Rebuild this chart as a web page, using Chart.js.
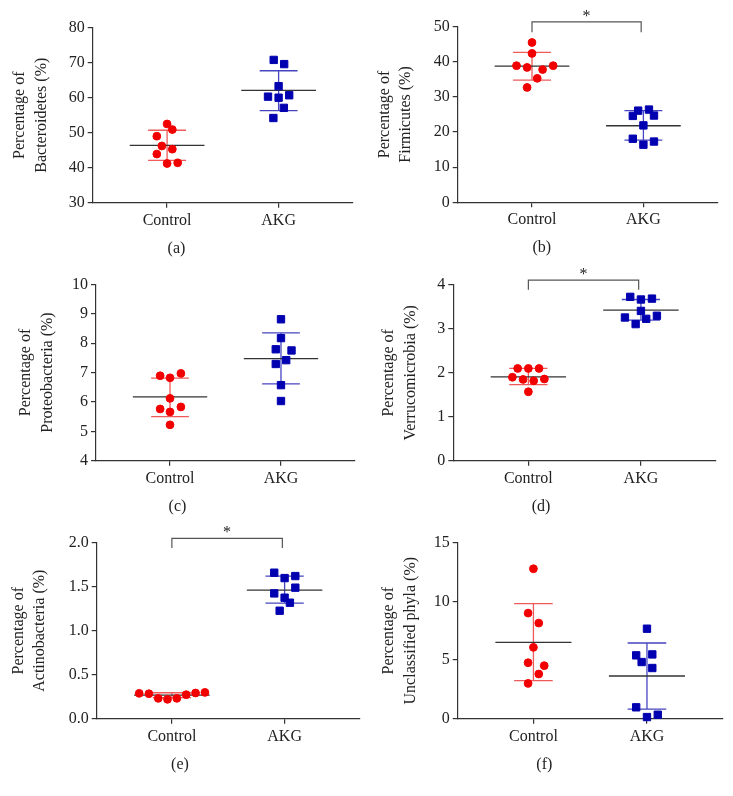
<!DOCTYPE html>
<html>
<head>
<meta charset="utf-8">
<title>Phyla abundance, Control vs AKG</title>
<script src="https://cdn.jsdelivr.net/npm/chart.js@4.4.1/dist/chart.umd.min.js"></script>
<style>
  body { margin: 0; background: #fff; }
  #grid { position: relative; width: 733px; height: 796px; }
  #grid canvas { position: absolute; }
</style>
</head>
<body>
<div id="grid">
  <canvas id="pa" width="366" height="265" style="left:0;top:0"></canvas>
  <canvas id="pb" width="367" height="265" style="left:366px;top:0"></canvas>
  <canvas id="pc" width="366" height="265" style="left:0;top:265px"></canvas>
  <canvas id="pd" width="367" height="265" style="left:366px;top:265px"></canvas>
  <canvas id="pe" width="366" height="281" style="left:0;top:515px"></canvas>
  <canvas id="pf" width="367" height="266" style="left:366px;top:530px"></canvas>
</div>
<script>
const groups = ['Control', 'AKG'];

// (a) Bacteroidetes
const bacControl = [52.5, 50.9, 49.0, 46.2, 45.3, 43.9, 41.2, 41.4];
const bacControlJit = [0, 0.047, -0.092, -0.047, 0.047, -0.092, 0, 0.095];
const bacAkg = [70.8, 69.6, 63.3, 60.3, 60.0, 60.7, 57.1, 54.2];
const bacAkgJit = [-0.044, 0.05, 0, -0.095, 0, 0.095, 0.047, -0.047];
const bacMean = [46.4, 62.1];
const bacLow = [42.1, 56.3];
const bacHigh = [50.7, 67.7];

// (b) Firmicutes
const firControl = [45.5, 42.4, 38.9, 38.4, 38.9, 37.8, 35.3, 32.7];
const firControlJit = [0, 0, -0.139, -0.044, 0.19, 0.095, 0.047, -0.044];
const firAkg = [26.1, 26.4, 24.6, 24.7, 21.9, 18.1, 17.3, 16.4];
const firAkgJit = [-0.047, 0.05, -0.095, 0.095, 0, -0.095, 0.095, 0];
const firMean = [38.8, 21.8];
const firLow = [34.8, 17.7];
const firHigh = [42.7, 26.1];

// (c) Proteobacteria
const proControl = [6.89, 6.82, 6.97, 6.12, 5.76, 5.66, 5.83, 5.22];
const proControlJit = [-0.089, 0, 0.098, 0, -0.089, 0, 0.098, 0];
const proAkg = [8.81, 8.17, 7.79, 7.75, 7.42, 7.29, 6.57, 6.03];
const proAkgJit = [0, 0, -0.047, 0.095, 0.047, -0.047, 0, 0];
const proMean = [6.17, 7.47];
const proLow = [5.50, 6.61];
const proHigh = [6.81, 8.35];

// (d) Verrucomicrobia
const verControl = [2.10, 2.10, 2.10, 1.90, 1.85, 1.82, 1.86, 1.57];
const verControlJit = [-0.095, 0, 0.095, -0.142, -0.047, 0.047, 0.142, 0];
const verAkg = [3.73, 3.67, 3.69, 3.41, 3.26, 3.23, 3.30, 3.11];
const verAkgJit = [-0.095, 0, 0.098, 0, -0.142, 0.047, 0.142, -0.047];
const verMean = [1.91, 3.43];
const verLow = [1.73, 3.20];
const verHigh = [2.10, 3.67];

// (e) Actinobacteria
const actControl = [0.288, 0.284, 0.231, 0.22, 0.231, 0.273, 0.292, 0.299];
const actControlJit = [-0.29, -0.204, -0.121, -0.039, 0.044, 0.127, 0.21, 0.293];
const actAkg = [1.659, 1.598, 1.621, 1.424, 1.489, 1.375, 1.318, 1.227];
const actAkgJit = [-0.092, 0, 0.095, -0.092, 0.095, 0, 0.047, -0.044];
const actMean = [0.269, 1.462];
const actLow = [0.24, 1.314];
const actHigh = [0.295, 1.621];

// (f) Unclassified phyla
const uncControl = [12.78, 9.0, 8.15, 6.08, 4.77, 4.52, 3.81, 3.01];
const uncControlJit = [0, -0.047, 0.047, 0, -0.047, 0.095, 0.047, -0.047];
const uncAkg = [7.67, 5.40, 5.48, 4.83, 4.32, 0.97, 0.14, 0.34];
const uncAkgJit = [0, -0.095, 0.047, -0.047, 0.047, -0.095, 0, 0.095];
const uncMean = [6.51, 3.64];
const uncLow = [3.24, 0.82];
const uncHigh = [9.80, 6.45];

Chart.defaults.font.family = "'Liberation Serif', 'Times New Roman', serif";
Chart.defaults.font.size = 16;
Chart.defaults.color = '#222';

const RED = '#f20000';
const BLUE = '#0000b0';
const barColors = ['#f05a5a', '#4646c0'];
const axisColor = '#333';

// mean line + SD whiskers, drawn under the points
const summaryPlugin = {
  id: 'summary',
  beforeDatasetsDraw(chart, args, opts) {
    const { ctx, scales: { x, y } } = chart;
    opts.mean.forEach((m, i) => {
      const c = i + 1;
      const px = v => x.getPixelForValue(v);
      const py = v => y.getPixelForValue(v);
      ctx.save();
      ctx.lineWidth = 1.3;
      ctx.strokeStyle = barColors[i];
      ctx.beginPath();
      ctx.moveTo(px(c), py(opts.low[i]));
      ctx.lineTo(px(c), py(opts.high[i]));
      [opts.low[i], opts.high[i]].forEach(v => {
        ctx.moveTo(px(c - 0.17), py(v));
        ctx.lineTo(px(c + 0.17), py(v));
      });
      ctx.stroke();
      ctx.strokeStyle = axisColor;
      ctx.beginPath();
      ctx.moveTo(px(c - 0.335), py(m));
      ctx.lineTo(px(c + 0.335), py(m));
      ctx.stroke();
      ctx.restore();
    });
  },
  afterDraw(chart, args, opts) {
    const sig = opts.sig;
    if (!sig) return;
    const { ctx, scales: { x, y } } = chart;
    const x1 = x.getPixelForValue(1), x2 = x.getPixelForValue(1.98);
    const yt = y.getPixelForValue(sig.top), yl = y.getPixelForValue(sig.leg);
    ctx.save();
    ctx.strokeStyle = '#555';
    ctx.lineWidth = 1.2;
    ctx.beginPath();
    ctx.moveTo(x1, yl);
    ctx.lineTo(x1, yt);
    ctx.lineTo(x2, yt);
    ctx.lineTo(x2, yl);
    ctx.stroke();
    ctx.fillStyle = '#222';
    ctx.font = "16px 'Liberation Serif', serif";
    ctx.textAlign = 'center';
    ctx.textBaseline = 'alphabetic';
    ctx.fillText('*', (x1 + x2) / 2, yt - 1);
    ctx.restore();
  }
};

const panels = [
  { id: 'pa', tag: '(a)', name: 'Bacteroidetes (%)', ctrl: bacControl, ctrlJit: bacControlJit, akg: bacAkg, akgJit: bacAkgJit,
    mean: bacMean, low: bacLow, high: bacHigh, yMin: 30, yMax: 80, step: 10, dec: 0,
    box: [92.7, 27.7, 353, 202.7], titlePad: 9, sig: null },
  { id: 'pb', tag: '(b)', name: 'Firmicutes (%)', ctrl: firControl, ctrlJit: firControlJit, akg: firAkg, akgJit: firAkgJit,
    mean: firMean, low: firLow, high: firHigh, yMin: 0, yMax: 50, step: 10, dec: 0,
    box: [91.7, 26.7, 351.7, 202.3], titlePad: 7.5, sig: { top: 51.4, leg: 48.4 } },
  { id: 'pc', tag: '(c)', name: 'Proteobacteria (%)', ctrl: proControl, ctrlJit: proControlJit, akg: proAkg, akgJit: proAkgJit,
    mean: proMean, low: proLow, high: proHigh, yMin: 4, yMax: 10, step: 1, dec: 0,
    box: [96, 19.3, 355, 195.7], titlePad: 15, sig: null },
  { id: 'pd', tag: '(d)', name: 'Verrucomicrobia (%)', ctrl: verControl, ctrlJit: verControlJit, akg: verAkg, akgJit: verAkgJit,
    mean: verMean, low: verLow, high: verHigh, yMin: 0, yMax: 4, step: 1, dec: 0,
    box: [87.3, 20, 350, 195.7], titlePad: 12, sig: { top: 4.11, leg: 3.89 } },
  { id: 'pe', tag: '(e)', name: 'Actinobacteria (%)', ctrl: actControl, ctrlJit: actControlJit, akg: actAkg, akgJit: actAkgJit,
    mean: actMean, low: actLow, high: actHigh, yMin: 0, yMax: 2, step: 0.5, dec: 1,
    box: [96.7, 27.7, 360, 203.7], titlePad: 7.5, sig: { top: 2.05, leg: 1.94 } },
  { id: 'pf', tag: '(f)', name: 'Unclassified phyla (%)', ctrl: uncControl, ctrlJit: uncControlJit, akg: uncAkg, akgJit: uncAkgJit,
    mean: uncMean, low: uncLow, high: uncHigh, yMin: 0, yMax: 15, step: 5, dec: 0,
    box: [91.7, 12.7, 356.7, 188.7], titlePad: 12, sig: null }
];

const X_AXIS_H = 32;
const TAG_BOX_H = 16 * 1.2 + 8;

panels.forEach(p => {
  const el = document.getElementById(p.id);
  const [left, top, right, bottom] = p.box;
  new Chart(el, {
    type: 'scatter',
    data: {
      datasets: [
        {
          label: groups[0],
          data: p.ctrl.map((v, i) => ({ x: 1 + p.ctrlJit[i], y: v })),
          pointStyle: 'circle',
          pointRadius: 3.9,
          borderWidth: 1,
          backgroundColor: RED,
          borderColor: RED,
          clip: false
        },
        {
          label: groups[1],
          data: p.akg.map((v, i) => ({ x: 2 + p.akgJit[i], y: v })),
          pointStyle: 'rect',
          pointRadius: 5.2,
          borderWidth: 1,
          backgroundColor: BLUE,
          borderColor: BLUE,
          clip: false
        }
      ]
    },
    plugins: [summaryPlugin],
    options: {
      responsive: false,
      animation: false,
      devicePixelRatio: 1,
      layout: {
        padding: { left: 0, top: top, right: el.width - right, bottom: el.height - bottom - X_AXIS_H - TAG_BOX_H }
      },
      scales: {
        x: {
          type: 'linear',
          min: 0.333,
          max: 2.667,
          afterBuildTicks: s => { s.ticks = [{ value: 1 }, { value: 2 }]; },
          afterFit: s => { s.height = X_AXIS_H; },
          ticks: { callback: v => groups[v - 1], padding: 3, color: '#222', font: { size: 16 } },
          grid: { drawOnChartArea: false, tickLength: 5, color: axisColor, lineWidth: 1.2 },
          border: { color: axisColor, width: 1.2 }
        },
        y: {
          min: p.yMin,
          max: p.yMax,
          afterFit: s => { s.width = left; },
          ticks: { stepSize: p.step, padding: 3, color: '#222', font: { size: 16 }, callback: v => v.toFixed(p.dec) },
          grid: { drawOnChartArea: false, tickLength: 5, color: axisColor, lineWidth: 1.2 },
          border: { color: axisColor, width: 1.2 },
          title: {
            display: true,
            text: ['Percentage of', p.name],
            color: '#222',
            font: { size: 16, lineHeight: 1.35 },
            padding: { top: p.titlePad, bottom: 0 }
          }
        }
      },
      plugins: {
        legend: { display: false },
        tooltip: { enabled: false },
        title: {
          display: true,
          position: 'bottom',
          text: p.tag,
          color: '#222',
          font: { size: 16, weight: 'normal', lineHeight: 1.2 },
          padding: { top: 4, bottom: 4 }
        },
        summary: { mean: p.mean, low: p.low, high: p.high, sig: p.sig }
      }
    }
  });
});
</script>
</body>
</html>
